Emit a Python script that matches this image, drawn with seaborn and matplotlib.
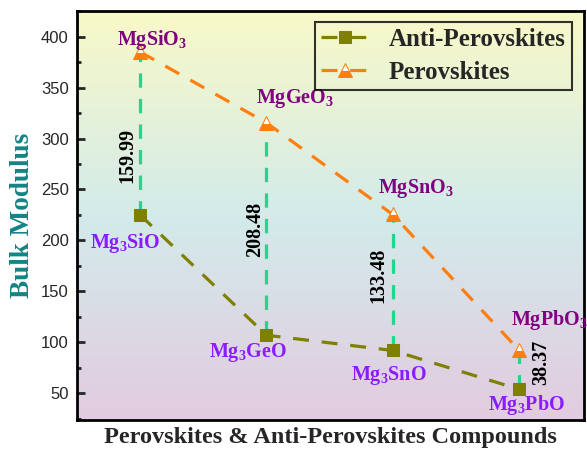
import numpy as np
import pandas as pd
import matplotlib
matplotlib.use("Agg")
import matplotlib.pyplot as plt
from matplotlib.colors import LinearSegmentedColormap
from matplotlib.ticker import MultipleLocator
import seaborn as sns

positions = [1, 2, 3, 4]
anti_names = ["Mg$_3$SiO", "Mg$_3$GeO", "Mg$_3$SnO", "Mg$_3$PbO"]
perov_names = ["MgSiO$_3$", "MgGeO$_3$", "MgSnO$_3$", "MgPbO$_3$"]
anti_values = [225.0, 107.0, 92.0, 54.0]
perov_values = [384.99, 315.48, 225.48, 92.37]
diff_labels = ["159.99", "208.48", "133.48", "38.37"]

sns.set_style("white")
plt.rcParams["font.family"] = ["Liberation Sans", "DejaVu Sans"]
plt.rcParams["mathtext.fontset"] = "custom"
plt.rcParams["mathtext.rm"] = "Liberation Serif:bold"
plt.rcParams["mathtext.it"] = "Liberation Serif:bold"
plt.rcParams["mathtext.bf"] = "Liberation Serif:bold"

fig = plt.figure(figsize=(5.87, 4.49), dpi=100)
ax = fig.add_axes([0.1312, 0.0646, 0.8637, 0.911])

# gradient background
cmap = LinearSegmentedColormap.from_list(
    "bg", [(0.0, "#e2cbe0"), (0.5, "#d3ebea"), (1.0, "#f9f9c8")])
grad = np.linspace(0, 1, 256).reshape(-1, 1)
ax.imshow(grad, extent=[0, 1, 0, 1], transform=ax.transAxes, origin="lower",
          aspect="auto", cmap=cmap, zorder=0)

df = pd.DataFrame({"pos": positions, "anti": anti_values, "perov": perov_values})

# connector lines between pairs
for x, lo, hi in zip(positions, anti_values, perov_values):
    ax.plot([x, x], [lo, hi], ls=(0, (4.5, 3.5)), color="#22d68c", lw=2.3, zorder=2)

sns.lineplot(data=df, x="pos", y="anti", ax=ax, color="#808000", lw=2.3,
             linestyle=(0, (5, 4)), marker="s", markersize=8.5,
             markeredgecolor="#808000", zorder=3, label="Anti-Perovskites")
sns.lineplot(data=df, x="pos", y="perov", ax=ax, color="#ff7f0e", lw=2.3,
             linestyle=(0, (5, 4)), marker="^", markersize=10,
             markerfacecolor="#ff7f0e", markerfacecoloralt="white",
             fillstyle="bottom", markeredgecolor="#ff7f0e", zorder=3,
             label="Perovskites")

ax.set_xlim(0.5, 4.515)
ax.set_ylim(23.8, 425.2)

serif = ["Liberation Serif", "DejaVu Serif"]
perov_pos = [(1.095, 392, "center"), (2.23, 335, "center"),
             (3.18, 247, "center"), (3.937, 116.7, "left")]
for name, (x, y, ha) in zip(perov_names, perov_pos):
    ax.text(x, y, name, color="#800080", fontsize=14.5, fontweight="bold",
            family=serif, ha=ha, va="baseline", zorder=4, clip_on=False)

anti_pos = [(0.881, 193), (1.853, 85.3), (2.972, 62.7), (4.063, 33.3)]
for name, (x, y) in zip(anti_names, anti_pos):
    ax.text(x, y, name, color="#8b1cff", fontsize=14.5, fontweight="bold",
            family=serif, ha="center", va="baseline", zorder=4)

diff_pos = [(0.897, 283), (1.913, 211), (2.89, 165.7), (4.175, 80.4)]
for lab, (x, y) in zip(diff_labels, diff_pos):
    ax.text(x, y, lab, color="black", fontsize=14.5, fontweight="bold",
            family=serif, rotation=90, ha="center", va="center", zorder=4)

ax.set_xticks([])
ax.yaxis.set_major_locator(MultipleLocator(50))
ax.yaxis.set_minor_locator(MultipleLocator(25))
ax.set_yticks(range(50, 401, 50))
ax.tick_params(axis="y", which="major", direction="in", length=6, width=2,
               labelsize=12, left=True, pad=6)
ax.tick_params(axis="y", which="minor", direction="in", length=3, width=2,
               left=True)
for s in ax.spines.values():
    s.set_linewidth(2)
    s.set_color("black")

ax.set_ylabel("Bulk Modulus", fontsize=19.5, fontweight="bold", color="#138484",
              family=serif, labelpad=4)
ax.set_xlabel("Perovskites & Anti-Perovskites Compounds", fontsize=17.5,
              fontweight="bold", family=serif, labelpad=5)

leg = ax.legend(loc="upper right", bbox_to_anchor=(0.976, 0.973),
                borderaxespad=0,
                prop={"family": serif, "weight": "bold", "size": 18},
                frameon=True, fancybox=False, handlelength=1.9,
                handletextpad=0.8, borderpad=0.25, labelspacing=0.4)
leg.get_frame().set_edgecolor("black")
leg.get_frame().set_linewidth(1.5)
leg.get_frame().set_facecolor("none")

fig.savefig("out.png", dpi=100)
